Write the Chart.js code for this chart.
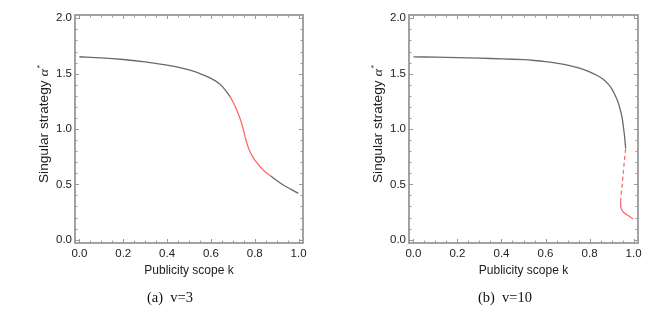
<!DOCTYPE html>
<html lang="en">
<head>
<meta charset="UTF-8">
<title>Singular strategy vs publicity scope</title>
<script src="https://cdn.jsdelivr.net/npm/chart.js"></script>
<style>
  body { margin: 0; background: #fff; }
  .wrap { position: relative; width: 664px; height: 315px; }
  .panel { position: absolute; top: 0; }
  .caption {
    position: absolute; top: 289px; transform: translateX(-50%);
    font-family: "Liberation Serif", "DejaVu Serif", serif; font-size: 14.5px;
    color: #111; white-space: pre;
  }
</style>
</head>
<body>
<div class="wrap">
  <canvas id="chartA" class="panel" style="left:0" width="332" height="315"></canvas>
  <canvas id="chartB" class="panel" style="left:332px" width="332" height="315"></canvas>
  <div class="caption" style="left:170px">(a)  v=3</div>
  <div class="caption" style="left:505px">(b)  v=10</div>
</div>

<script>
// axis ticks
const xTicks = [0, 0.2, 0.4, 0.6, 0.8, 1.0];
const yTicks = [0, 0.5, 1.0, 1.5, 2.0];

// (a) v=3 : publicity scope k -> singular strategy
const kA1 = [0, 0.1, 0.2, 0.3, 0.4, 0.45, 0.5, 0.55, 0.6, 0.64, 0.664, 0.687];
const alphaA1 = [1.653, 1.643, 1.628, 1.607, 1.578, 1.559, 1.534, 1.501, 1.457, 1.407, 1.356, 1.292];
const kA2 = [0.687, 0.703, 0.718, 0.730, 0.740, 0.748, 0.755, 0.763, 0.771, 0.78, 0.79, 0.801, 0.82, 0.839, 0.856, 0.873];
const alphaA2 = [1.292, 1.235, 1.172, 1.11, 1.051, 0.993, 0.935, 0.878, 0.830, 0.788, 0.750, 0.716, 0.670, 0.630, 0.600, 0.575];
const kA3 = [0.873, 0.90, 0.93, 0.965, 0.999];
const alphaA3 = [0.575, 0.535, 0.494, 0.455, 0.419];

// (b) v=10
const kB1 = [0, 0.1, 0.2, 0.3, 0.4, 0.5, 0.55, 0.6, 0.65, 0.7, 0.75, 0.8, 0.835, 0.863, 0.885, 0.9, 0.915, 0.928, 0.94, 0.948, 0.953, 0.958, 0.962, 0.964];
const alphaB1 = [1.652, 1.649, 1.645, 1.640, 1.634, 1.626, 1.619, 1.609, 1.596, 1.578, 1.553, 1.517, 1.483, 1.447, 1.405, 1.365, 1.31, 1.25, 1.17, 1.1, 1.03, 0.95, 0.87, 0.825];
const kB2 = [0.964, 0.958, 0.953, 0.947, 0.941];
const alphaB2 = [0.82, 0.71, 0.60, 0.47, 0.345];
const kB3 = [0.941, 0.942, 0.946, 0.955, 0.969, 0.985, 0.998];
const alphaB3 = [0.345, 0.30, 0.27, 0.245, 0.226, 0.205, 0.188];

const GRAY = '#6a6a6a';
const RED = '#ff6b6b';
const FRAME = '#999999';

function pts(ks, as) {
  return ks.map((k, i) => ({ x: k, y: as[i] }));
}

function line(ks, as, color, dash) {
  return {
    data: pts(ks, as),
    showLine: true,
    borderColor: color,
    borderWidth: 1.3,
    borderDash: dash || [],
    pointRadius: 0,
    tension: 0.3,
    fill: false
  };
}

// frame, inward ticks and axis titles drawn the Mathematica way
const framePlugin = {
  id: 'frame',
  afterDraw(chart) {
    const ctx = chart.ctx;
    const a = chart.chartArea;
    const xs = chart.scales.x, ys = chart.scales.y;
    ctx.save();
    ctx.strokeStyle = FRAME;
    ctx.lineWidth = 1;
    for (let i = 0; i <= 20; i++) {
      const px = Math.round(xs.getPixelForValue(i * 0.05)) + 0.5;
      const len = (i % 4 === 0) ? 4 : 2.5;
      ctx.beginPath();
      ctx.moveTo(px, a.bottom); ctx.lineTo(px, a.bottom - len);
      ctx.moveTo(px, a.top); ctx.lineTo(px, a.top + len);
      ctx.stroke();
    }
    for (let i = 0; i <= 20; i++) {
      const py = Math.round(ys.getPixelForValue(i * 0.1)) + 0.5;
      const len = (i % 5 === 0) ? 4 : 2.5;
      ctx.beginPath();
      ctx.moveTo(a.left, py); ctx.lineTo(a.left + len, py);
      ctx.moveTo(a.right, py); ctx.lineTo(a.right - len, py);
      ctx.stroke();
    }
    ctx.lineWidth = 1.8;
    ctx.strokeRect(a.left, a.top, a.right - a.left, a.bottom - a.top);

    ctx.fillStyle = '#222';
    ctx.font = '12px "Liberation Sans", Arial, sans-serif';
    ctx.textAlign = 'center';
    ctx.textBaseline = 'middle';
    ctx.fillText('Publicity scope k', (a.left + a.right) / 2, 271);

    // y title: Singular strategy α*
    const t1 = 'Singular strategy ';
    const f1 = '12px "Liberation Sans", Arial, sans-serif';
    const f2 = 'italic 12.5px "Liberation Serif", serif';
    const f3 = '8px "Liberation Sans", Arial, sans-serif';
    ctx.font = f1; const w1 = ctx.measureText(t1).width;
    ctx.font = f2; const w2 = ctx.measureText('α').width;
    ctx.font = f3; const w3 = ctx.measureText('*').width;
    const total = w1 + w2 + w3 + 0.5;
    ctx.translate(a.left - 30.5, 124);
    ctx.rotate(-Math.PI / 2);
    ctx.scale(1.14, 1);
    ctx.textAlign = 'left';
    const x0 = -total / 2;
    ctx.font = f1; ctx.fillText(t1, x0, 0);
    ctx.font = f2; ctx.fillText('α', x0 + w1, 0);
    ctx.font = f3; ctx.fillText('*', x0 + w1 + w2 + 0.5, -5);
    ctx.restore();
  }
};

function makeChart(id, areaLeft, areaRight, datasets) {
  return new Chart(document.getElementById(id), {
    type: 'scatter',
    data: { datasets: datasets },
    options: {
      responsive: false,
      animation: false,
      layout: { padding: { left: 0, top: 15, right: 332 - areaRight, bottom: 0 } },
      plugins: { legend: { display: false }, tooltip: { enabled: false } },
      scales: {
        x: {
          type: 'linear', min: -0.02, max: 1.02,
          grid: { display: false, drawTicks: false }, border: { display: false },
          afterBuildTicks: s => { s.ticks = xTicks.map(v => ({ value: v })); },
          afterFit: s => { s.height = 72; },
          ticks: {
            padding: 4, color: '#222', maxRotation: 0,
            font: { family: '"Liberation Sans", Arial, sans-serif', size: 11.5 },
            callback: v => v.toFixed(1)
          }
        },
        y: {
          type: 'linear', min: -0.03, max: 2.03,
          grid: { display: false, drawTicks: false }, border: { display: false },
          afterBuildTicks: s => { s.ticks = yTicks.map(v => ({ value: v })); },
          afterFit: s => { s.width = areaLeft; },
          ticks: {
            padding: 3, color: '#222',
            font: { family: '"Liberation Sans", Arial, sans-serif', size: 11.5 },
            callback: v => v.toFixed(1)
          }
        }
      }
    },
    plugins: [framePlugin]
  });
}

makeChart('chartA', 75, 303, [
  line(kA1, alphaA1, GRAY),
  line(kA2, alphaA2, RED),
  line(kA3, alphaA3, GRAY)
]);

makeChart('chartB', 77, 306, [
  line(kB1, alphaB1, GRAY),
  line(kB2, alphaB2, RED, [4, 3]),
  line(kB3, alphaB3, RED)
]);
</script>
</body>
</html>
